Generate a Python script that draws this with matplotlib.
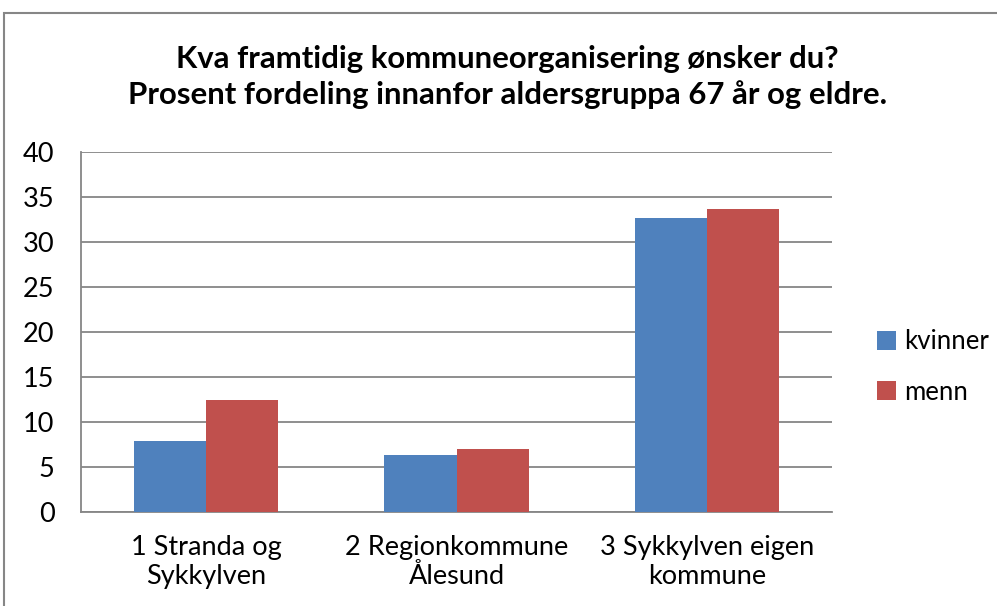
import matplotlib
matplotlib.use("Agg")
import matplotlib.pyplot as plt
from matplotlib.patches import Rectangle
import numpy as np

categories = ["1 Stranda og\nSykkylven", "2 Regionkommune\nÅlesund", "3 Sykkylven eigen\nkommune"]
kvinner = [7.9, 6.3, 32.6]
menn = [12.4, 7.0, 33.6]
series_names = ["kvinner", "menn"]
yticks = [0, 5, 10, 15, 20, 25, 30, 35, 40]
title = "Kva framtidig kommuneorganisering ønsker du?\nProsent fordeling innanfor aldersgruppa 67 år og eldre."

plt.rcParams['font.family'] = ['Lato', 'DejaVu Sans']

fig = plt.figure(figsize=(9.97, 6.06), dpi=100)
# outer chart border
fig.patches.append(Rectangle((4/997, -0.1), 1.2, 1 - 13/606 + 0.1, transform=fig.transFigure,
                             fill=False, edgecolor='#868686', linewidth=1.5))

ax = fig.add_axes([81/997, 1 - 511.7/606, 751/997, 360/606])
x = np.arange(len(categories))
w = 0.2877
ax.bar(x - w/2, kvinner, w, color='#4F81BD', label=series_names[0], zorder=3)
ax.bar(x + w/2, menn, w, color='#C0504D', label=series_names[1], zorder=3)

ax.set_xlim(-0.5, 2.5)
ax.set_ylim(0, 40)
ax.set_yticks(yticks)
ax.set_yticklabels([str(t) for t in yticks], fontsize=19.5)
ax.set_xticks(x)
ax.set_xticklabels(categories, fontsize=19.5, linespacing=1.2)
ax.tick_params(axis='x', length=0, pad=17)
ax.tick_params(axis='y', length=0, pad=19)
ax.grid(axis='y', color='#868686', linewidth=1.3, zorder=0)
for s in ['top', 'right']:
    ax.spines[s].set_visible(False)
for s in ['left', 'bottom']:
    ax.spines[s].set_color('#868686')
    ax.spines[s].set_linewidth(1.3)

fig.text(0.509, 1 - 77/606, title, ha='center', va='center', fontsize=22.4,
         fontweight='bold', linespacing=1.3)

leg = ax.legend(loc='center left', bbox_to_anchor=(877/997, 1 - 367/606), bbox_transform=fig.transFigure,
                frameon=False, fontsize=18.5, handlelength=0.75, handleheight=0.75,
                labelspacing=1.0, handletextpad=0.3, borderpad=0, borderaxespad=0)

fig.savefig("out.png", dpi=100)
